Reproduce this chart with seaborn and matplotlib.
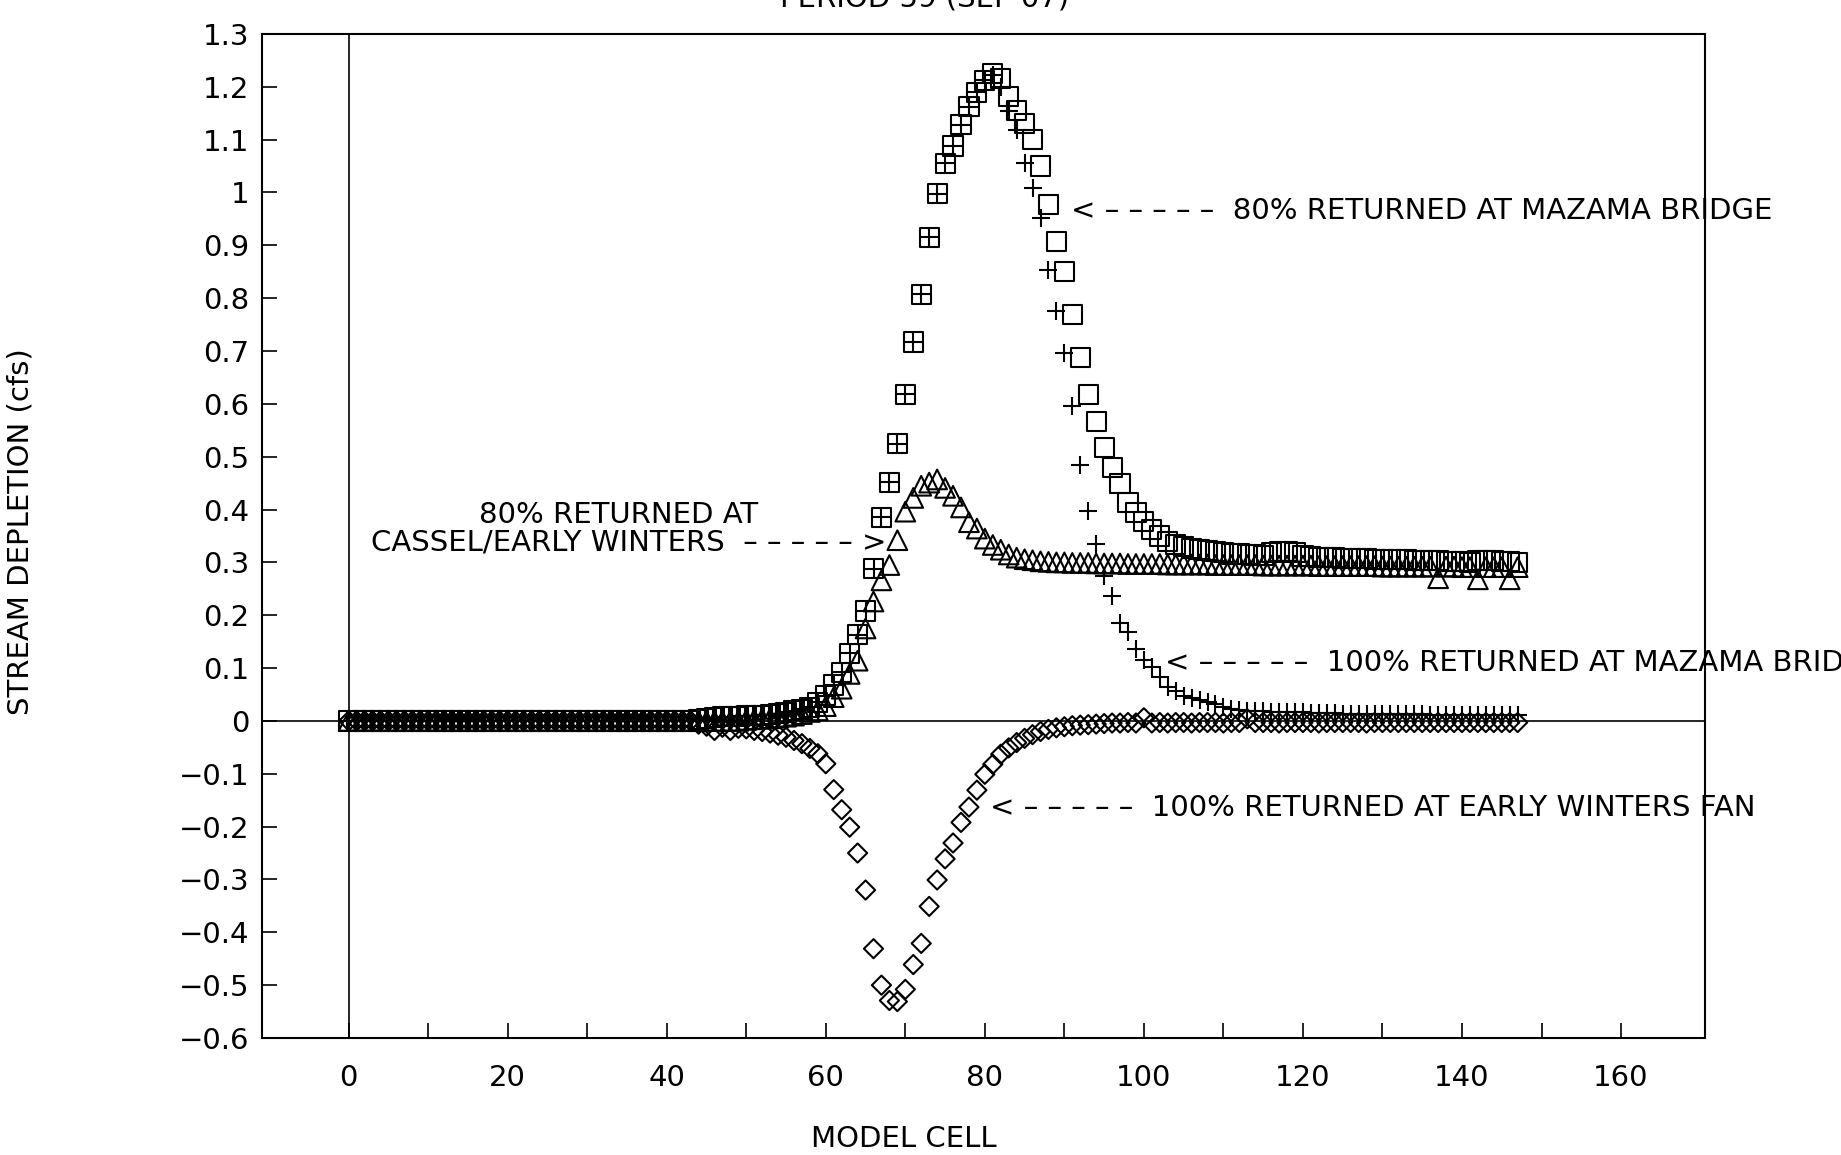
import numpy as np
import pandas as pd
import matplotlib
matplotlib.use("Agg")
import matplotlib.pyplot as plt
from matplotlib.ticker import FixedLocator
import seaborn as sns

# ---------------------------------------------------------------------------
# Stream depletion by model cell, stress period 59 (Sep 07)
# ---------------------------------------------------------------------------
cells = list(range(0, 148))

# 80% returned at Mazama Bridge (squares)
depl_80_mazama = [
    0.0, 0.0, 0.0, 0.0, 0.0, 0.0, 0.0, 0.0, 0.0, 0.0,
    0.0, 0.0, 0.0, 0.0, 0.0, 0.0, 0.0, 0.0, 0.0, 0.0,
    0.0, 0.0, 0.0, 0.0, 0.0, 0.0, 0.0, 0.0, 0.0, 0.0,
    0.0, 0.0, 0.0, 0.0, 0.0, 0.0, 0.0, 0.0, 0.0, 0.0,
    0.0, 0.0, 0.0, 0.0, 0.002, 0.004, 0.006, 0.008, 0.008, 0.009,
    0.010, 0.010, 0.011, 0.012, 0.014, 0.016, 0.019, 0.022, 0.026, 0.035,
    0.048, 0.068, 0.092, 0.128, 0.163, 0.208, 0.288, 0.385, 0.452, 0.525,
    0.618, 0.717, 0.807, 0.915, 0.998, 1.055, 1.088, 1.128, 1.162, 1.190,
    1.212, 1.225, 1.215, 1.182, 1.155, 1.130, 1.100, 1.050, 0.977, 0.907,
    0.851, 0.769, 0.687, 0.618, 0.567, 0.517, 0.480, 0.449, 0.414, 0.395,
    0.378, 0.362, 0.350, 0.340, 0.334, 0.330, 0.326, 0.324, 0.322, 0.320,
    0.318, 0.316, 0.316, 0.315, 0.314, 0.313, 0.318, 0.320, 0.320, 0.318,
    0.312, 0.311, 0.310, 0.309, 0.309, 0.308, 0.308, 0.307, 0.307, 0.306,
    0.306, 0.305, 0.305, 0.305, 0.304, 0.304, 0.303, 0.303, 0.302, 0.302,
    0.301, 0.300, 0.304, 0.304, 0.303, 0.302, 0.301, 0.300,
]

# 100% returned at Mazama Bridge (plus signs)
depl_100_mazama = [
    0.0, 0.0, 0.0, 0.0, 0.0, 0.0, 0.0, 0.0, 0.0, 0.0,
    0.0, 0.0, 0.0, 0.0, 0.0, 0.0, 0.0, 0.0, 0.0, 0.0,
    0.0, 0.0, 0.0, 0.0, 0.0, 0.0, 0.0, 0.0, 0.0, 0.0,
    0.0, 0.0, 0.0, 0.0, 0.0, 0.0, 0.0, 0.0, 0.0, 0.0,
    0.0, 0.0, 0.0, 0.0, 0.002, 0.004, 0.006, 0.008, 0.008, 0.009,
    0.010, 0.010, 0.011, 0.012, 0.014, 0.016, 0.019, 0.022, 0.026, 0.035,
    0.048, 0.068, 0.092, 0.128, 0.163, 0.208, 0.288, 0.385, 0.452, 0.525,
    0.618, 0.717, 0.807, 0.915, 0.998, 1.055, 1.088, 1.128, 1.162, 1.190,
    1.212, 1.222, 1.200, 1.155, 1.118, 1.055, 1.008, 0.952, 0.854, 0.775,
    0.696, 0.596, 0.485, 0.398, 0.334, 0.274, 0.237, 0.186, 0.168, 0.137,
    0.115, 0.103, 0.084, 0.065, 0.056, 0.047, 0.044, 0.040, 0.036, 0.032,
    0.026, 0.022, 0.020, 0.019, 0.018, 0.018, 0.017, 0.017, 0.016, 0.016,
    0.016, 0.015, 0.015, 0.015, 0.015, 0.014, 0.014, 0.014, 0.014, 0.014,
    0.013, 0.013, 0.013, 0.013, 0.013, 0.013, 0.012, 0.012, 0.012, 0.012,
    0.012, 0.012, 0.012, 0.011, 0.011, 0.011, 0.011, 0.011,
]

# 80% returned at Cassel / Early Winters (triangles)
depl_80_cassel = [
    0.0, 0.0, 0.0, 0.0, 0.0, 0.0, 0.0, 0.0, 0.0, 0.0,
    0.0, 0.0, 0.0, 0.0, 0.0, 0.0, 0.0, 0.0, 0.0, 0.0,
    0.0, 0.0, 0.0, 0.0, 0.0, 0.0, 0.0, 0.0, 0.0, 0.0,
    0.0, 0.0, 0.0, 0.0, 0.0, 0.0, 0.0, 0.0, 0.0, 0.0,
    0.0, 0.0, 0.0, 0.0, 0.0, 0.0, 0.0, 0.0, 0.0, 0.0,
    0.002, 0.003, 0.004, 0.005, 0.006, 0.008, 0.010, 0.013, 0.017, 0.020,
    0.028, 0.045, 0.061, 0.089, 0.114, 0.175, 0.226, 0.266, 0.295, 0.342,
    0.396, 0.422, 0.445, 0.451, 0.457, 0.441, 0.426, 0.404, 0.376, 0.364,
    0.345, 0.333, 0.324, 0.315, 0.309, 0.306, 0.304, 0.302, 0.301, 0.300,
    0.300, 0.299, 0.299, 0.299, 0.298, 0.298, 0.298, 0.298, 0.297, 0.297,
    0.297, 0.297, 0.297, 0.296, 0.296, 0.296, 0.296, 0.296, 0.296, 0.295,
    0.295, 0.295, 0.295, 0.295, 0.295, 0.294, 0.294, 0.294, 0.294, 0.294,
    0.294, 0.294, 0.293, 0.293, 0.293, 0.293, 0.293, 0.293, 0.293, 0.293,
    0.292, 0.292, 0.292, 0.292, 0.292, 0.292, 0.292, 0.270, 0.292, 0.292,
    0.291, 0.291, 0.268, 0.291, 0.291, 0.291, 0.268, 0.291,
]

# 100% returned at Early Winters fan (diamonds)
depl_100_ewfan = [
    0.0, 0.0, 0.0, 0.0, 0.0, 0.0, 0.0, 0.0, 0.0, 0.0,
    0.0, 0.0, 0.0, 0.0, 0.0, 0.0, 0.0, 0.0, 0.0, 0.0,
    0.0, 0.0, 0.0, 0.0, 0.0, 0.0, 0.0, 0.0, 0.0, 0.0,
    0.0, 0.0, 0.0, 0.0, 0.0, 0.0, 0.0, 0.0, 0.0, 0.0,
    0.0, 0.0, 0.0, 0.0, -0.006, -0.010, -0.018, -0.012, -0.018, -0.014,
    -0.015, -0.018, -0.020, -0.023, -0.027, -0.031, -0.037, -0.043, -0.052, -0.062,
    -0.081, -0.130, -0.168, -0.201, -0.250, -0.320, -0.431, -0.500, -0.529, -0.531,
    -0.508, -0.461, -0.421, -0.351, -0.301, -0.261, -0.231, -0.192, -0.163, -0.131,
    -0.101, -0.082, -0.063, -0.051, -0.041, -0.033, -0.026, -0.020, -0.016, -0.013,
    -0.011, -0.009, -0.008, -0.007, -0.006, -0.005, -0.004, -0.004, -0.003, -0.004,
    0.006, -0.004, -0.003, -0.004, -0.003, -0.003, -0.004, -0.003, -0.003, -0.003,
    -0.004, -0.003, -0.003, 0.004, -0.003, -0.003, -0.003, -0.004, -0.003, -0.003,
    -0.003, -0.003, -0.004, -0.003, -0.003, -0.003, -0.003, -0.003, -0.004, -0.003,
    -0.003, -0.003, -0.003, -0.003, -0.003, -0.003, -0.003, -0.003, -0.003, -0.003,
    -0.003, -0.003, -0.003, -0.003, -0.003, -0.003, -0.003, -0.003,
]

y_ticks = [-0.6, -0.5, -0.4, -0.3, -0.2, -0.1, 0.0, 0.1, 0.2, 0.3,
           0.4, 0.5, 0.6, 0.7, 0.8, 0.9, 1.0, 1.1, 1.2, 1.3]
y_tick_labels = ["\u22120.6", "\u22120.5", "\u22120.4", "\u22120.3", "\u22120.2",
                 "\u22120.1", "0", "0.1", "0.2", "0.3", "0.4", "0.5", "0.6",
                 "0.7", "0.8", "0.9", "1", "1.1", "1.2", "1.3"]
x_major = [0, 20, 40, 60, 80, 100, 120, 140, 160]
x_minor = [10, 30, 50, 70, 90, 110, 130, 150]

df = pd.DataFrame({
    "cell": cells,
    "m80": depl_80_mazama,
    "m100": depl_100_mazama,
    "c80": depl_80_cassel,
    "ew100": depl_100_ewfan,
})

# ---------------------------------------------------------------------------
sns.set_theme(style="white")
plt.rcParams["font.family"] = ["DejaVu Sans"]
plt.rcParams["text.color"] = "black"
plt.rcParams["axes.labelcolor"] = "black"
plt.rcParams["xtick.color"] = "black"
plt.rcParams["ytick.color"] = "black"

fig = plt.figure(figsize=(18.41, 11.55), dpi=100)
ax = fig.add_axes([0.1423, 0.1013, 0.784, 0.8693])

lw = 1.5
sns.scatterplot(data=df, x="cell", y="ew100", marker="D", s=95,
                facecolor="none", edgecolor="black", linewidth=lw, ax=ax, zorder=3)
sns.scatterplot(data=df, x="cell", y="c80", marker="^", s=200,
                facecolor="none", edgecolor="black", linewidth=lw, ax=ax, zorder=3)
sns.scatterplot(data=df, x="cell", y="m80", marker="s", s=190,
                facecolor="none", edgecolor="black", linewidth=lw, ax=ax, zorder=3)
sns.scatterplot(data=df, x="cell", y="m100", marker="+", s=160,
                color="black", linewidth=lw, ax=ax, zorder=4)

# reference lines through the origin
ax.axhline(0, color="black", lw=1.2, zorder=2)
ax.axvline(0, color="black", lw=1.2, zorder=2)

ax.set_xlim(-10.9, 170.6)
ax.set_ylim(-0.6, 1.3)

ax.set_yticks(y_ticks)
ax.set_yticklabels(y_tick_labels)
ax.xaxis.set_major_locator(FixedLocator(x_major))
ax.xaxis.set_minor_locator(FixedLocator(x_minor))
ax.set_xticklabels([str(v) for v in x_major])

ax.tick_params(axis="both", which="both", direction="in", length=11,
               width=1.2, color="black", labelsize=21, labelcolor="black")
ax.tick_params(axis="y", pad=9)
ax.tick_params(axis="x", which="both", pad=19, bottom=True)
ax.tick_params(axis="y", left=True)
ax.tick_params(top=False, right=False)

for sp in ax.spines.values():
    sp.set_visible(True)
    sp.set_color("black")
    sp.set_linewidth(1.5)

ax.set_xlabel("")
ax.set_ylabel("")
ax.grid(False)

# axis titles and figure heading
fig.text(0.0114, 0.540, "STREAM DEPLETION (cfs)", rotation=90,
         ha="center", va="center", fontsize=21, color="black")
fig.text(0.491, 0.0139, "MODEL CELL", ha="center", va="center",
         fontsize=21, color="black")
fig.text(0.502, 1 - 7 / 1155, "PERIOD 59 (SEP 07)", ha="center",
         va="baseline", fontsize=21, color="black")

# series annotations
dash = "\u2013 \u2013 \u2013 \u2013 \u2013"
ax.text(90.8, 0.965, "< " + dash + "  80% RETURNED AT MAZAMA BRIDGE",
        ha="left", va="center", fontsize=21, color="black", clip_on=False)
ax.text(16.4, 0.39, "80% RETURNED AT", ha="left", va="center",
        fontsize=21, color="black")
ax.text(2.8, 0.338, "CASSEL/EARLY WINTERS  " + dash + " >",
        ha="left", va="center", fontsize=21, color="black")
ax.text(102.7, 0.11, "< " + dash + "  100% RETURNED AT MAZAMA BRIDGE",
        ha="left", va="center", fontsize=21, color="black", clip_on=False)
ax.text(80.6, -0.165, "< " + dash + "  100% RETURNED AT EARLY WINTERS FAN",
        ha="left", va="center", fontsize=21, color="black", clip_on=False)

fig.savefig("out.png", dpi=100, facecolor="white")
